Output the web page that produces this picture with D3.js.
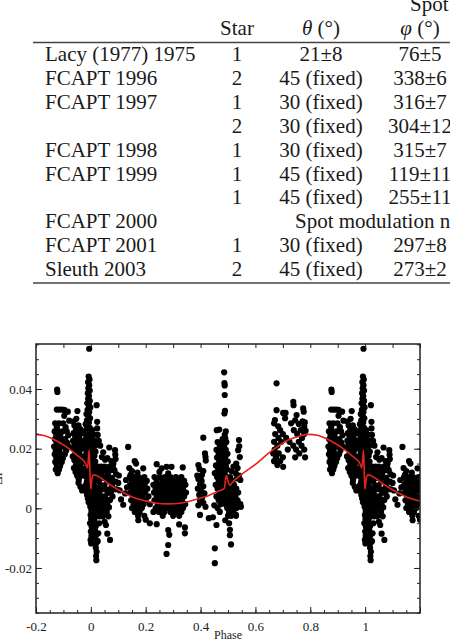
<!DOCTYPE html>
<html>
<head>
<meta charset="utf-8">
<script src="https://cdn.jsdelivr.net/npm/d3@7"></script>
<style>
  body { margin: 0; background: #fff; }
  svg { display: block; }
</style>
</head>
<body>
<div id="chart"></div>
<script>
// ---- table values ----
const rowLabels = ['Lacy (1977) 1975', 'FCAPT 1996', 'FCAPT 1997', '', 'FCAPT 1998', 'FCAPT 1999', '', 'FCAPT 2000', 'FCAPT 2001', 'Sleuth 2003']
const starCol = ['1', '2', '1', '2', '1', '1', '1', '', '1', '2']
const thetaCol = ['21±8', '45 (fixed)', '30 (fixed)', '30 (fixed)', '30 (fixed)', '45 (fixed)', '45 (fixed)', '', '30 (fixed)', '45 (fixed)']
const phiCol = ['76±5', '338±6', '316±7', '304±12', '315±7', '119±11', '255±11', '', '297±8', '273±2']
const spanNote = { row: 7, text: 'Spot modulation not detected' }

// ---- light curve residuals, phase in [0,1) ----
// [phase, value] pairs and [value, [phases...]] rows
const preEclipseHigh = [[0.877, 0.0398], [0.878, 0.039], [0.876, 0.0331], [0.885, 0.0331], [0.894, 0.0331], [0.903, 0.033], [0.916, 0.0324], [0.921, 0.0294], [0.903, 0.031]]
const preEclipseRows = [
  [0.0285, [0.870, 0.884, 0.899]],
  [0.0272, [0.876, 0.908]],
  [0.0258, [0.868, 0.882, 0.896, 0.912]],
  [0.0245, [0.874, 0.888, 0.918]],
  [0.0232, [0.869, 0.880, 0.893, 0.906]],
  [0.0220, [0.875, 0.899, 0.913]],
  [0.0207, [0.866, 0.879, 0.892, 0.904, 0.920]],
  [0.0194, [0.872, 0.885, 0.910]],
  [0.0181, [0.868, 0.880, 0.893, 0.905]],
  [0.0168, [0.874, 0.886, 0.898]],
  [0.0155, [0.870, 0.882, 0.894]],
  [0.0142, [0.876, 0.888]],
  [0.0130, [0.872, 0.884]],
  [0.0118, [0.879]]
]
const ingressHigh = [[0.951, 0.0326], [0.936, 0.0291], [0.947, 0.03], [0.955, 0.0085], [0.962, 0.0072], [0.968, 0.006]]
const ingressRows = [
  [0.0278, [0.940, 0.955]],
  [0.0265, [0.946, 0.962]],
  [0.0252, [0.937, 0.952, 0.967]],
  [0.0239, [0.943, 0.958]],
  [0.0226, [0.935, 0.949, 0.964]],
  [0.0213, [0.941, 0.956, 0.970]],
  [0.0200, [0.937, 0.951, 0.965]],
  [0.0187, [0.944, 0.958]],
  [0.0174, [0.934, 0.949, 0.963]],
  [0.0161, [0.940, 0.955, 0.969]],
  [0.0148, [0.946, 0.961]],
  [0.0135, [0.938, 0.952, 0.966]],
  [0.0122, [0.944, 0.958]],
  [0.0109, [0.950, 0.964]],
  [0.0096, [0.956]]
]
const primaryColumn = [
  [0.994, 0.0535], [0.992, 0.0442], [0.995, 0.0432], [0.99, 0.0423], [0.994, 0.0413], [0.991, 0.0403], [0.996, 0.0395],
  [0.989, 0.0386], [0.993, 0.0377], [0.99, 0.0367], [0.996, 0.036], [0.987, 0.0352], [0.993, 0.0345], [0.998, 0.0338],
  [0.988, 0.033], [0.994, 0.0323], [0.984, 0.0316], [0.991, 0.0309], [0.997, 0.0302], [0.986, 0.0295], [0.993, 0.0288],
  [0.981, 0.0282], [0.989, 0.0276], [0.996, 0.027], [0.983, 0.0263], [0.991, 0.0257], [0.979, 0.025], [0.987, 0.0245],
  [0.995, 0.0239], [0.982, 0.0233], [0.99, 0.0227], [0.998, 0.0222], [0.978, 0.0216], [0.985, 0.0211], [0.993, 0.0205],
  [0.98, 0.0199], [0.988, 0.0194], [0.996, 0.0188], [0.983, 0.0182], [0.991, 0.0176], [0.977, 0.0171], [0.986, 0.0165],
  [0.994, 0.0159], [0.981, 0.0153], [0.989, 0.0147], [0.997, 0.0141], [0.984, 0.0135], [0.992, 0.0129], [0.978, 0.0124],
  [0.987, 0.0118], [0.995, 0.0112], [0.982, 0.0106], [0.99, 0.01], [0.998, 0.0094], [0.985, 0.0088], [0.993, 0.0082],
  [0.98, 0.0076], [0.988, 0.007], [0.996, 0.0064], [0.983, 0.0058], [0.991, 0.0052], [0.986, 0.0045], [0.994, 0.004],
  [0.989, 0.0033], [0.997, 0.0027], [0.992, 0.002], [0.999, 0.0012]
]
const primaryBottom = [
  [0.001, 0.003], [0.998, 0.0005], [0.002, -0.0008], [0.999, -0.0022], [0.001, -0.0036], [0.997, -0.005], [0.003, -0.0063],
  [0.0, -0.0078], [0.002, -0.0092], [0.999, -0.0106], [0.001, -0.0118],
  [0.012, -0.0015], [0.016, -0.003], [0.013, -0.0045], [0.018, -0.006], [0.015, -0.0075], [0.02, -0.0088],
  [0.017, -0.0102], [0.019, -0.0117], [0.018, -0.0132], [0.021, -0.0146], [0.019, -0.016], [0.02, -0.0174]
]
const primaryAfter = [
  [0.004, 0.0262], [0.009, 0.0248], [0.004, 0.0235], [0.012, 0.0228], [0.007, 0.0215], [0.015, 0.021], [0.003, 0.0202],
  [0.01, 0.0196], [0.017, 0.019], [0.006, 0.0183], [0.013, 0.0176], [0.003, 0.0168], [0.009, 0.0162], [0.016, 0.0157],
  [0.005, 0.0148], [0.012, 0.0142], [0.019, 0.0137], [0.008, 0.013], [0.003, 0.0122], [0.015, 0.012], [0.01, 0.0112],
  [0.006, 0.0102], [0.018, 0.01], [0.013, 0.0092], [0.004, 0.0085], [0.009, 0.0078], [0.016, 0.0072], [0.006, 0.0064],
  [0.012, 0.0056], [0.019, 0.005], [0.008, 0.0044], [0.004, 0.0036], [0.014, 0.003], [0.01, 0.002], [0.006, 0.001],
  [0.016, 0.0008], [0.009, -0.0005]
]
const egressHigh = [
  [0.021, 0.0346], [0.023, 0.029], [0.023, 0.0268], [0.025, 0.0246], [0.029, 0.0226], [0.034, 0.021], [0.067, 0.0204],
  [0.088, 0.0195], [0.089, 0.018], [0.09, 0.0165], [0.045, 0.0188], [0.04, 0.0172], [0.052, 0.0163], [0.06, 0.0168],
  [0.075, 0.0158], [0.082, 0.015], [0.1, 0.0085], [0.105, 0.006], [0.11, 0.003], [0.118, 0.0012], [0.125, 0.005],
  [0.128, 0.0095], [0.132, 0.007], [0.102, 0.011]
]
const egressRows = [
  [0.0140, [0.026, 0.038, 0.050, 0.068, 0.080]],
  [0.0128, [0.032, 0.044, 0.056, 0.074, 0.086]],
  [0.0115, [0.027, 0.040, 0.062, 0.092]],
  [0.0102, [0.034, 0.047, 0.053, 0.065, 0.077]],
  [0.0090, [0.029, 0.059, 0.071, 0.083, 0.090]],
  [0.0077, [0.037, 0.049, 0.077]],
  [0.0064, [0.025, 0.043, 0.055, 0.067, 0.086, 0.094]],
  [0.0052, [0.031, 0.061, 0.073]],
  [0.0040, [0.027, 0.039, 0.051, 0.079]],
  [0.0028, [0.033, 0.045, 0.063, 0.070]],
  [0.0015, [0.024, 0.036, 0.048, 0.060]],
  [0.0003, [0.030, 0.042, 0.054, 0.066]],
  [-0.0012, [0.026, 0.038, 0.058]],
  [-0.0027, [0.032, 0.044, 0.064]]
]
const egressLow = [[0.027, -0.0084], [0.025, -0.011], [0.03, -0.005], [0.055, -0.0056], [0.06, -0.0085], [0.07, -0.0106], [0.05, -0.0045]]
const troughHigh = [
  [0.136, 0.0206], [0.16, 0.0158], [0.165, 0.015], [0.191, 0.0134], [0.24, 0.0148], [0.258, 0.0134], [0.276, 0.0139],
  [0.294, 0.0139], [0.335, 0.0137], [0.282, 0.0117], [0.25, 0.0122], [0.17, 0.012], [0.15, 0.0125], [0.14, 0.0135], [0.145, 0.0112]
]
const troughRows = [
  [0.0105, [0.142, 0.158, 0.175, 0.195, 0.232, 0.252, 0.270, 0.290, 0.310, 0.330]],
  [0.0092, [0.150, 0.166, 0.184, 0.204, 0.240, 0.261, 0.280, 0.300, 0.320, 0.340]],
  [0.0079, [0.143, 0.160, 0.177, 0.196, 0.228, 0.248, 0.268, 0.288, 0.307, 0.327, 0.345]],
  [0.0066, [0.152, 0.169, 0.186, 0.206, 0.236, 0.256, 0.276, 0.296, 0.316, 0.336]],
  [0.0053, [0.145, 0.162, 0.179, 0.198, 0.230, 0.250, 0.270, 0.290, 0.310, 0.330, 0.347]],
  [0.0040, [0.154, 0.171, 0.188, 0.210, 0.240, 0.260, 0.280, 0.300, 0.320, 0.340]],
  [0.0027, [0.147, 0.164, 0.181, 0.200, 0.232, 0.252, 0.272, 0.292, 0.312, 0.332]],
  [0.0014, [0.156, 0.174, 0.192, 0.215, 0.244, 0.264, 0.284, 0.304, 0.324, 0.344]],
  [0.0001, [0.150, 0.168, 0.186, 0.236, 0.256, 0.276, 0.296, 0.316, 0.336]],
  [-0.0012, [0.160, 0.178, 0.228, 0.248, 0.268, 0.290, 0.310, 0.330]],
  [-0.0025, [0.172, 0.195, 0.262, 0.300, 0.322]]
]
const troughLow = [
  [0.215, -0.005], [0.24, -0.0053], [0.282, -0.0073], [0.286, -0.0089], [0.282, -0.0123], [0.276, -0.0153],
  [0.322, -0.0054], [0.343, -0.0064], [0.343, -0.0084], [0.173, -0.004], [0.2, -0.0038]
]
const midPoints = [
  [0.41, 0.0237], [0.416, 0.0184], [0.418, 0.0172], [0.419, 0.016], [0.392, 0.0145], [0.396, 0.0132], [0.388, 0.011],
  [0.41, 0.0125], [0.405, 0.0112], [0.392, 0.0098], [0.404, 0.0092], [0.398, 0.008], [0.41, 0.0074], [0.39, 0.0066],
  [0.402, 0.0058], [0.414, 0.005], [0.395, 0.0045], [0.406, 0.0036], [0.398, 0.0025], [0.41, 0.0018], [0.392, 0.001],
  [0.398, -0.0022], [0.43, -0.0033], [0.418, 0.0005]
]
const secondaryHigh = [
  [0.486, 0.0456], [0.487, 0.042], [0.488, 0.0412], [0.488, 0.038], [0.489, 0.0327], [0.487, 0.0318], [0.459, 0.0262],
  [0.468, 0.0264], [0.492, 0.0258], [0.488, 0.0246], [0.49, 0.0235], [0.48, 0.0232],
  [0.537, 0.0195], [0.54, 0.0229], [0.541, 0.0208], [0.543, 0.0172], [0.53, 0.015], [0.535, 0.0135], [0.52, 0.014],
  [0.512, 0.0125], [0.528, 0.0118], [0.54, 0.011], [0.545, 0.0095], [0.532, 0.01], [0.547, 0.0005]
]
const secondaryRows = [
  [0.0222, [0.462, 0.478, 0.494]],
  [0.0209, [0.470, 0.486]],
  [0.0196, [0.458, 0.475, 0.492]],
  [0.0183, [0.466, 0.483, 0.498]],
  [0.0170, [0.460, 0.476, 0.490]],
  [0.0157, [0.468, 0.484, 0.499]],
  [0.0144, [0.456, 0.474, 0.492]],
  [0.0131, [0.464, 0.480, 0.496]],
  [0.0118, [0.452, 0.470, 0.488]],
  [0.0105, [0.460, 0.477, 0.494, 0.508]],
  [0.0092, [0.466, 0.484, 0.500, 0.515]],
  [0.0079, [0.455, 0.473, 0.491, 0.507, 0.522]],
  [0.0066, [0.462, 0.480, 0.498, 0.513, 0.530]],
  [0.0053, [0.469, 0.487, 0.505, 0.520, 0.537]],
  [0.0040, [0.458, 0.476, 0.494, 0.511, 0.527]],
  [0.0027, [0.466, 0.484, 0.501, 0.518, 0.535]],
  [0.0014, [0.473, 0.491, 0.508, 0.525, 0.545]],
  [0.0001, [0.462, 0.497, 0.514, 0.531]],
  [-0.0012, [0.470, 0.504, 0.520]],
  [-0.0025, [0.500, 0.512, 0.529]]
]
const secondaryLow = [
  [0.452, -0.0134], [0.452, -0.0184], [0.458, -0.0056], [0.504, -0.005], [0.507, -0.0072], [0.507, -0.009],
  [0.511, -0.0121], [0.529, -0.0022], [0.49, -0.004], [0.445, -0.003], [0.45, 0.001]
]
const humpHigh = [
  [0.677, 0.0419], [0.738, 0.0357], [0.739, 0.0346], [0.677, 0.0329], [0.701, 0.032], [0.71, 0.032], [0.774, 0.0335],
  [0.776, 0.0324], [0.75, 0.0313], [0.671, 0.0296], [0.708, 0.0302], [0.668, 0.0285], [0.683, 0.0275], [0.745, 0.0295],
  [0.772, 0.0292], [0.78, 0.0288], [0.778, 0.0275], [0.783, 0.026], [0.758, 0.0283], [0.73, 0.0285]
]
const humpRows = [
  [0.0262, [0.690, 0.740, 0.765]],
  [0.0249, [0.672, 0.700, 0.752, 0.778]],
  [0.0236, [0.684, 0.712, 0.770]],
  [0.0223, [0.668, 0.694, 0.724, 0.758]],
  [0.0210, [0.680, 0.738, 0.768]],
  [0.0197, [0.670, 0.718, 0.748, 0.778]],
  [0.0184, [0.665, 0.685, 0.760]],
  [0.0171, [0.675, 0.700, 0.745, 0.781]],
  [0.0158, [0.668, 0.690]],
  [0.0145, [0.680]],
  [0.0139, [0.701]]
]

// ---- spot model, one cycle ----
const modelPhase = [0.000, 0.004, 0.010, 0.020, 0.033, 0.050, 0.082, 0.120, 0.155, 0.200, 0.240, 0.280, 0.325, 0.360, 0.398, 0.430, 0.460, 0.486, 0.494, 0.501, 0.507, 0.515, 0.550, 0.600, 0.647, 0.680, 0.720, 0.760, 0.793, 0.829, 0.860, 0.890, 0.920, 0.951, 0.981, 0.988, 0.994, 0.999]
const modelFlux = [0.0065, 0.0100, 0.0112, 0.0110, 0.0104, 0.0092, 0.0072, 0.0052, 0.0036, 0.0025, 0.0017, 0.0015, 0.0017, 0.0024, 0.0034, 0.0043, 0.0056, 0.0066, 0.0110, 0.0088, 0.0077, 0.0086, 0.0114, 0.0147, 0.0184, 0.0207, 0.0229, 0.0242, 0.0248, 0.0244, 0.0233, 0.0218, 0.0200, 0.0177, 0.0150, 0.0136, 0.0195, 0.0065]

const xTickLabels = ['-0.2', '0', '0.2', '0.4', '0.6', '0.8', '1']
const yTickLabels = ['-0.02', '0', '0.02', '0.04']

const width = 450
const height = 642

const svg = d3.select('#chart')
  .append('svg')
  .attr('width', width)
  .attr('height', height)
  .style('background', '#fff')

// ---- table ----
const serif = "'Liberation Serif', 'Times New Roman', serif"
const table = svg.append('g')
  .attr('font-family', serif)
  .attr('font-size', 21)
  .attr('fill', '#1a1a1a')

table.append('text').attr('x', 410).attr('y', 11).text('Spot')
table.append('text').attr('x', 237).attr('y', 35).attr('text-anchor', 'middle').text('Star')
const thHead = table.append('text').attr('x', 321).attr('y', 35).attr('text-anchor', 'middle')
thHead.append('tspan').attr('font-style', 'italic').text('θ')
thHead.append('tspan').text(' (°)')
const phHead = table.append('text').attr('x', 420).attr('y', 35).attr('text-anchor', 'middle')
phHead.append('tspan').attr('font-style', 'italic').text('φ')
phHead.append('tspan').text(' (°)')

table.append('line').attr('x1', 33).attr('x2', width).attr('y1', 42.5).attr('y2', 42.5)
  .attr('stroke', '#444').attr('stroke-width', 1.6)
table.append('line').attr('x1', 33).attr('x2', width).attr('y1', 283).attr('y2', 283)
  .attr('stroke', '#444').attr('stroke-width', 1.6)

const rowY = (i) => 61 + i * 23.9
rowLabels.forEach((label, i) => {
  table.append('text').attr('x', 45).attr('y', rowY(i)).text(label)
  table.append('text').attr('x', 237).attr('y', rowY(i)).attr('text-anchor', 'middle').text(starCol[i])
  table.append('text').attr('x', 321).attr('y', rowY(i)).attr('text-anchor', 'middle').text(thetaCol[i])
  table.append('text').attr('x', 420).attr('y', rowY(i)).attr('text-anchor', 'middle').text(phiCol[i])
})
table.append('text').attr('x', 295).attr('y', rowY(spanNote.row)).text(spanNote.text)

// ---- plot ----
const plot = { left: 36, right: 420, top: 344, bottom: 613 }

const xScale = d3.scaleLinear().domain([-0.2, 1.2]).range([plot.left, plot.right])
const yScale = d3.scaleLinear().domain([-0.0351, 0.0551]).range([plot.bottom, plot.top])

svg.append('clipPath').attr('id', 'plotClip')
  .append('rect')
  .attr('x', plot.left).attr('y', plot.top)
  .attr('width', plot.right - plot.left).attr('height', plot.bottom - plot.top)

const fromRows = (rows) => rows.flatMap(([v, ps]) => ps.map((p) => [p, v]))
const points = [
  ...preEclipseHigh, ...fromRows(preEclipseRows),
  ...ingressHigh, ...fromRows(ingressRows),
  ...primaryColumn, ...primaryBottom, ...primaryAfter,
  ...egressHigh, ...fromRows(egressRows), ...egressLow,
  ...troughHigh, ...fromRows(troughRows), ...troughLow,
  ...midPoints,
  ...secondaryHigh, ...fromRows(secondaryRows), ...secondaryLow,
  ...humpHigh, ...fromRows(humpRows)
]

// phase-folded: repeat the cycle edges outside [0,1)
const shown = []
points.forEach(([p, v]) => {
  shown.push([p, v])
  if (p - 1 >= -0.21) shown.push([p - 1, v])
  if (p + 1 <= 1.21) shown.push([p + 1, v])
})

const bounds = svg.append('g').attr('clip-path', 'url(#plotClip)')

bounds.append('g')
  .selectAll('circle')
  .data(shown)
  .join('circle')
  .attr('cx', (d) => xScale(d[0]))
  .attr('cy', (d) => yScale(d[1]))
  .attr('r', 3.1)
  .attr('fill', '#000')

const model = []
;[-1, 0, 1].forEach((k) => {
  modelPhase.forEach((p, i) => {
    const x = p + k
    if (x >= -0.3 && x <= 1.3) model.push([x, modelFlux[i]])
  })
})

const lineGenerator = d3.line()
  .x((d) => xScale(d[0]))
  .y((d) => yScale(d[1]))
  .curve(d3.curveMonotoneX)

bounds.append('path')
  .attr('d', lineGenerator(model))
  .attr('fill', 'none')
  .attr('stroke', '#e3241c')
  .attr('stroke-width', 1.6)

// ---- axes, ticks pointing inward ----
const majorX = d3.range(-0.2, 1.2001, 0.2).map((d) => +d.toFixed(2))
const minorX = d3.range(-0.2, 1.2001, 0.05).map((d) => +d.toFixed(2))
const topX = d3.range(-0.2, 1.2001, 0.1).map((d) => +d.toFixed(2))
const majorY = [-0.02, 0, 0.02, 0.04]
const minorY = d3.range(-0.035, 0.0551, 0.005).map((d) => +d.toFixed(3))

const styleAxis = (g) => {
  g.select('.domain').remove()
  g.selectAll('line').attr('stroke', '#222').attr('stroke-width', 1)
  g.selectAll('text').attr('font-family', serif).attr('font-size', 13).attr('fill', '#222')
}

svg.append('g')
  .attr('transform', `translate(0, ${plot.bottom})`)
  .call(d3.axisBottom(xScale).tickValues(minorX).tickSize(-3).tickFormat(''))
  .call(styleAxis)
svg.append('g')
  .attr('transform', `translate(0, ${plot.bottom})`)
  .call(d3.axisBottom(xScale).tickValues(majorX).tickSize(-6).tickPadding(9)
    .tickFormat((d, i) => xTickLabels[i] || ''))
  .call(styleAxis)

svg.append('g')
  .attr('transform', `translate(0, ${plot.top})`)
  .call(d3.axisTop(xScale).tickValues(topX).tickSize(-4).tickFormat(''))
  .call(styleAxis)

svg.append('g')
  .attr('transform', `translate(${plot.left}, 0)`)
  .call(d3.axisLeft(yScale).tickValues(minorY).tickSize(-3).tickFormat(''))
  .call(styleAxis)
svg.append('g')
  .attr('transform', `translate(${plot.left}, 0)`)
  .call(d3.axisLeft(yScale).tickValues(majorY).tickSize(-6).tickPadding(4)
    .tickFormat((d, i) => yTickLabels[i]))
  .call(styleAxis)

svg.append('g')
  .attr('transform', `translate(${plot.right}, 0)`)
  .call(d3.axisRight(yScale).tickValues(minorY).tickSize(-3).tickFormat(''))
  .call(styleAxis)
svg.append('g')
  .attr('transform', `translate(${plot.right}, 0)`)
  .call(d3.axisRight(yScale).tickValues(majorY).tickSize(-6).tickFormat(''))
  .call(styleAxis)

svg.append('rect')
  .attr('x', plot.left).attr('y', plot.top)
  .attr('width', plot.right - plot.left).attr('height', plot.bottom - plot.top)
  .attr('fill', 'none')
  .attr('stroke', '#222')
  .attr('stroke-width', 1.5)

// axis titles
svg.append('text')
  .attr('x', (plot.left + plot.right) / 2)
  .attr('y', 639)
  .attr('text-anchor', 'middle')
  .attr('font-family', serif)
  .attr('font-size', 12)
  .attr('fill', '#222')
  .text('Phase')

svg.append('text')
  .attr('transform', `translate(2, ${(plot.top + plot.bottom) / 2}) rotate(-90)`)
  .attr('text-anchor', 'middle')
  .attr('font-family', serif)
  .attr('font-size', 13)
  .attr('fill', '#222')
  .text('ΔI')
</script>
</body>
</html>
